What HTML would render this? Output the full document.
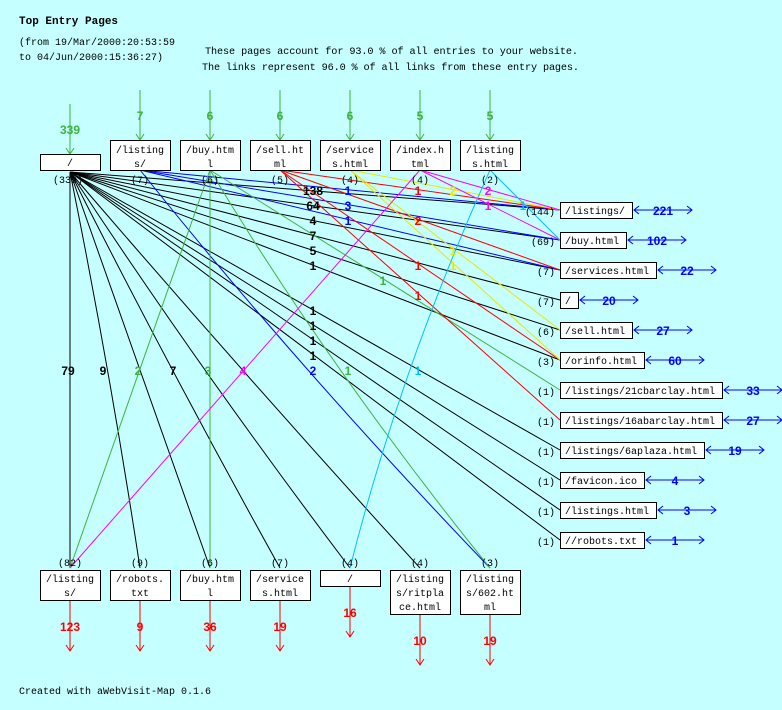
<!DOCTYPE html>
<html><head><meta charset="utf-8"><style>
html,body{margin:0;padding:0;background:#c6ffff;}
svg{display:block;font-family:"Liberation Mono",monospace;}
.t{font-size:10px;fill:#000;}
.n{font-size:12px;font-weight:bold;font-family:"Liberation Sans",sans-serif;}
</style></head><body>
<svg width="782" height="710" viewBox="0 0 782 710" xmlns="http://www.w3.org/2000/svg">
<rect width="782" height="710" fill="#c6ffff"/>
<text x="19" y="24" font-size="11" font-weight="bold" font-family="Liberation Mono,monospace">Top Entry Pages</text>
<text x="19" y="45" font-size="10">(from 19/Mar/2000:20:53:59</text>
<text x="19" y="60" font-size="10">to 04/Jun/2000:15:36:27)</text>
<text x="205" y="54" font-size="10.2" textLength="373">These pages account for 93.0 % of all entries to your website.</text>
<text x="202" y="70" font-size="10.2" textLength="377">The links represent 96.0 % of all links from these entry pages.</text>
<text x="19" y="694" font-size="10">Created with aWebVisit-Map 0.1.6</text>

<g stroke="#3cb33c" fill="none">
<line x1="70" y1="104" x2="70" y2="154"/><polyline points="66,148 70,154 74,148"/>
<line x1="140" y1="90" x2="140" y2="140"/><polyline points="136,134 140,140 144,134"/>
<line x1="210" y1="90" x2="210" y2="140"/><polyline points="206,134 210,140 214,134"/>
<line x1="280" y1="90" x2="280" y2="140"/><polyline points="276,134 280,140 284,134"/>
<line x1="350" y1="90" x2="350" y2="140"/><polyline points="346,134 350,140 354,134"/>
<line x1="420" y1="90" x2="420" y2="140"/><polyline points="416,134 420,140 424,134"/>
<line x1="490" y1="90" x2="490" y2="140"/><polyline points="486,134 490,140 494,134"/>
</g>
<g class="n" fill="#3cb33c" text-anchor="middle">
<text x="70" y="134">339</text><text x="140" y="120">7</text><text x="210" y="120">6</text><text x="280" y="120">6</text><text x="350" y="120">6</text><text x="420" y="120">5</text><text x="490" y="120">5</text>
</g>

<g stroke="#000" fill="none" stroke-width="1">
<line x1="70" y1="172" x2="560" y2="210"/><line x1="70" y1="172" x2="560" y2="240"/>
<line x1="70" y1="172" x2="560" y2="270"/><line x1="70" y1="172" x2="560" y2="300"/>
<line x1="70" y1="172" x2="560" y2="330"/><line x1="70" y1="172" x2="560" y2="360"/>
<line x1="70" y1="172" x2="560" y2="450"/><line x1="70" y1="172" x2="560" y2="480"/>
<line x1="70" y1="172" x2="560" y2="510"/><line x1="70" y1="172" x2="560" y2="540"/>
<line x1="70" y1="172" x2="70" y2="568"/>
<path d="M70,172 Q110,370 140,568"/><path d="M70,172 Q140,370 210,568"/>
<path d="M70,172 Q170,370 280,568"/><path d="M70,172 Q200,370 350,568"/>
<path d="M70,172 Q240,370 420,568"/>
</g>
<g stroke="#0000ff" fill="none">
<line x1="140" y1="170" x2="560" y2="210"/><line x1="140" y1="170" x2="560" y2="240"/>
<line x1="140" y1="170" x2="560" y2="270"/><path d="M140,170 Q300,370 490,568"/>
</g>
<g stroke="#3cb33c" fill="none">
<line x1="210" y1="170" x2="210" y2="568"/><line x1="210" y1="170" x2="70" y2="568"/>
<line x1="210" y1="170" x2="560" y2="390"/><path d="M210,170 Q330,370 490,568"/>
</g>
<g stroke="#ff0000" fill="none">
<line x1="280" y1="170" x2="560" y2="210"/><line x1="280" y1="170" x2="560" y2="270"/>
<line x1="280" y1="170" x2="560" y2="360"/><line x1="280" y1="170" x2="560" y2="420"/>
</g>
<g stroke="#e8e800" fill="none">
<line x1="350" y1="170" x2="560" y2="210"/><line x1="350" y1="170" x2="560" y2="330"/>
<line x1="350" y1="170" x2="560" y2="360"/>
</g>
<g stroke="#ff00ff" fill="none">
<line x1="420" y1="170" x2="560" y2="210"/><line x1="420" y1="170" x2="560" y2="240"/>
<line x1="420" y1="170" x2="70" y2="568"/>
</g>
<g stroke="#00c0ff" fill="none">
<line x1="490" y1="170" x2="560" y2="240"/><path d="M490,170 Q400,370 350,568"/>
</g>

<g class="n" text-anchor="middle">
<g fill="#000"><text x="313" y="195">138</text><text x="313" y="210">64</text><text x="313" y="225">4</text><text x="313" y="240">7</text><text x="313" y="255">5</text><text x="313" y="270">1</text>
<text x="313" y="315">1</text><text x="313" y="330">1</text><text x="313" y="345">1</text><text x="313" y="360">1</text>
<text x="68" y="375">79</text><text x="103" y="375">9</text><text x="173" y="375">7</text></g>
<g fill="#0000ff"><text x="348" y="195">1</text><text x="348" y="210">3</text><text x="348" y="225">1</text><text x="313" y="375">2</text></g>
<g fill="#3cb33c"><text x="383" y="285">1</text><text x="138" y="375">2</text><text x="208" y="375">3</text><text x="348" y="375">1</text></g>
<g fill="#ff0000"><text x="418" y="195">1</text><text x="418" y="225">2</text><text x="418" y="270">1</text><text x="418" y="300">1</text></g>
<g fill="#e8e800"><text x="453" y="195">2</text><text x="453" y="255">1</text><text x="453" y="270">1</text></g>
<g fill="#ff00ff"><text x="488" y="195">2</text><text x="488" y="210">1</text><text x="243" y="375">4</text></g>
<g fill="#00c0ff"><text x="523" y="210">1</text><text x="418" y="375">1</text></g>
</g>

<g fill="#fff" stroke="#000">
<rect x="40.5" y="154.5" width="60" height="16"/>
<rect x="110.5" y="140.5" width="60" height="30"/><rect x="180.5" y="140.5" width="60" height="30"/>
<rect x="250.5" y="140.5" width="60" height="30"/><rect x="320.5" y="140.5" width="60" height="30"/>
<rect x="390.5" y="140.5" width="60" height="30"/><rect x="460.5" y="140.5" width="60" height="30"/>
</g>
<g class="t" text-anchor="middle">
<text x="70" y="166">/</text>
<text x="140" y="153">/listing</text><text x="140" y="167">s/</text>
<text x="210" y="153">/buy.htm</text><text x="210" y="167">l</text>
<text x="280" y="153">/sell.ht</text><text x="280" y="167">ml</text>
<text x="350" y="153">/service</text><text x="350" y="167">s.html</text>
<text x="420" y="153">/index.h</text><text x="420" y="167">tml</text>
<text x="490" y="153">/listing</text><text x="490" y="167">s.html</text>
<text x="68" y="183">(339)</text><text x="140" y="183">(7)</text><text x="210" y="183">(6)</text><text x="280" y="183">(5)</text><text x="350" y="183">(4)</text><text x="420" y="183">(4)</text><text x="490" y="183">(2)</text>
</g>

<g fill="#fff" stroke="#000">
<rect x="560.5" y="202.5" width="72" height="16"/><rect x="560.5" y="232.5" width="66" height="16"/>
<rect x="560.5" y="262.5" width="96" height="16"/><rect x="560.5" y="292.5" width="18" height="16"/>
<rect x="560.5" y="322.5" width="72" height="16"/><rect x="560.5" y="352.5" width="84" height="16"/>
<rect x="560.5" y="382.5" width="162" height="16"/><rect x="560.5" y="412.5" width="162" height="16"/>
<rect x="560.5" y="442.5" width="144" height="16"/><rect x="560.5" y="472.5" width="84" height="16"/>
<rect x="560.5" y="502.5" width="96" height="16"/><rect x="560.5" y="532.5" width="84" height="16"/>
</g>
<g class="t">
<text x="565" y="214">/listings/</text><text x="565" y="244">/buy.html</text><text x="565" y="274">/services.html</text>
<text x="565" y="304">/</text><text x="565" y="334">/sell.html</text><text x="565" y="364">/orinfo.html</text>
<text x="565" y="394">/listings/21cbarclay.html</text><text x="565" y="424">/listings/16abarclay.html</text>
<text x="565" y="454">/listings/6aplaza.html</text><text x="565" y="484">/favicon.ico</text>
<text x="565" y="514">/listings.html</text><text x="565" y="544">//robots.txt</text>
</g>
<g class="t" text-anchor="end">
<text x="555" y="215">(144)</text><text x="555" y="245">(69)</text><text x="555" y="275">(7)</text><text x="555" y="305">(7)</text>
<text x="555" y="335">(6)</text><text x="555" y="365">(3)</text><text x="555" y="395">(1)</text><text x="555" y="425">(1)</text>
<text x="555" y="455">(1)</text><text x="555" y="485">(1)</text><text x="555" y="515">(1)</text><text x="555" y="545">(1)</text>
</g>
<g stroke="#0000ff" fill="none">
<path d="M634,210h58M639,206l-5,4l5,4M687,206l5,4l-5,4"/>
<path d="M628,240h58M633,236l-5,4l5,4M681,236l5,4l-5,4"/>
<path d="M658,270h58M663,266l-5,4l5,4M711,266l5,4l-5,4"/>
<path d="M580,300h58M585,296l-5,4l5,4M633,296l5,4l-5,4"/>
<path d="M634,330h58M639,326l-5,4l5,4M687,326l5,4l-5,4"/>
<path d="M646,360h58M651,356l-5,4l5,4M699,356l5,4l-5,4"/>
<path d="M724,390h58M729,386l-5,4l5,4M777,386l5,4l-5,4"/>
<path d="M724,420h58M729,416l-5,4l5,4M777,416l5,4l-5,4"/>
<path d="M706,450h58M711,446l-5,4l5,4M759,446l5,4l-5,4"/>
<path d="M646,480h58M651,476l-5,4l5,4M699,476l5,4l-5,4"/>
<path d="M658,510h58M663,506l-5,4l5,4M711,506l5,4l-5,4"/>
<path d="M646,540h58M651,536l-5,4l5,4M699,536l5,4l-5,4"/>
</g>
<g class="n" fill="#0000ff" text-anchor="middle">
<text x="663" y="215">221</text><text x="657" y="245">102</text><text x="687" y="275">22</text><text x="609" y="305">20</text>
<text x="663" y="335">27</text><text x="675" y="365">60</text><text x="753" y="395">33</text><text x="753" y="425">27</text>
<text x="735" y="455">19</text><text x="675" y="485">4</text><text x="687" y="515">3</text><text x="675" y="545">1</text>
</g>

<g fill="#fff" stroke="#000">
<rect x="40.5" y="570.5" width="60" height="30"/><rect x="110.5" y="570.5" width="60" height="30"/>
<rect x="180.5" y="570.5" width="60" height="30"/><rect x="250.5" y="570.5" width="60" height="30"/>
<rect x="320.5" y="570.5" width="60" height="16"/><rect x="390.5" y="570.5" width="60" height="44"/>
<rect x="460.5" y="570.5" width="60" height="44"/>
</g>
<g class="t" text-anchor="middle">
<text x="70" y="582">/listing</text><text x="70" y="596">s/</text>
<text x="140" y="582">/robots.</text><text x="140" y="596">txt</text>
<text x="210" y="582">/buy.htm</text><text x="210" y="596">l</text>
<text x="280" y="582">/service</text><text x="280" y="596">s.html</text>
<text x="350" y="582">/</text>
<text x="420" y="582">/listing</text><text x="420" y="596">s/ritpla</text><text x="420" y="610">ce.html</text>
<text x="490" y="582">/listing</text><text x="490" y="596">s/602.ht</text><text x="490" y="610">ml</text>
<text x="70" y="566">(82)</text><text x="140" y="566">(9)</text><text x="210" y="566">(6)</text><text x="280" y="566">(7)</text><text x="350" y="566">(4)</text><text x="420" y="566">(4)</text><text x="490" y="566">(3)</text>
</g>
<g stroke="#ff0000" fill="none">
<path d="M70,601v50M66,645l4,6l4,-6"/><path d="M140,601v50M136,645l4,6l4,-6"/>
<path d="M210,601v50M206,645l4,6l4,-6"/><path d="M280,601v50M276,645l4,6l4,-6"/>
<path d="M350,587v50M346,631l4,6l4,-6"/><path d="M420,615v50M416,659l4,6l4,-6"/>
<path d="M490,615v50M486,659l4,6l4,-6"/>
</g>
<g class="n" fill="#ff0000" text-anchor="middle">
<text x="70" y="631">123</text><text x="140" y="631">9</text><text x="210" y="631">36</text><text x="280" y="631">19</text>
<text x="350" y="617">16</text><text x="420" y="645">10</text><text x="490" y="645">19</text>
</g>
</svg>
</body></html>
